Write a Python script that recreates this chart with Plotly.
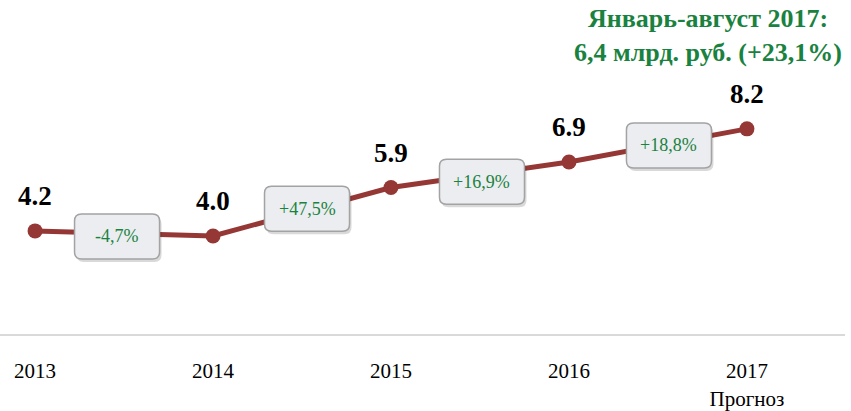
import plotly.graph_objects as go

years = ["2013", "2014", "2015", "2016", "2017"]
tick_labels = ["2013", "2014", "2015", "2016", "2017<br>Прогноз"]
values = [4.2, 4.0, 5.9, 6.9, 8.2]
value_labels = ["4.2", "4.0", "5.9", "6.9", "8.2"]
growth_labels = ["-4,7%", "+47,5%", "+16,9%", "+18,8%"]
title_lines = ["Январь-август 2017:", "6,4 млрд. руб. (+23,1%)"]

LINE = "#953735"
GREEN = "#1a8240"
SERIF = "Liberation Serif, Times New Roman, serif"

x = list(range(len(years)))

fig = go.Figure()
fig.add_trace(go.Scatter(
    x=x, y=values, mode="lines+markers",
    line=dict(color=LINE, width=5),
    marker=dict(color=LINE, size=15),
    hoverinfo="skip", showlegend=False,
))

annotations = []
for xi, v, lab in zip(x, values, value_labels):
    annotations.append(dict(
        x=xi, y=v, text=f"<b>{lab}</b>", showarrow=False, yshift=35,
        font=dict(family=SERIF, size=27, color="black"),
    ))

shapes = []
box_dx = [-7, 5, 2, 11]
box_dy = [-3, 3, -7, 0]
w, h, r = 85, 45, 7


def rrect(cx, cy):
    x0, x1 = cx - w / 2, cx + w / 2
    y0, y1 = cy - h / 2, cy + h / 2
    return (f"M {x0+r},{y0} L {x1-r},{y0} Q {x1},{y0} {x1},{y0+r} "
            f"L {x1},{y1-r} Q {x1},{y1} {x1-r},{y1} L {x0+r},{y1} "
            f"Q {x0},{y1} {x0},{y1-r} L {x0},{y0+r} Q {x0},{y0} {x0+r},{y0} Z")


for i, lab in enumerate(growth_labels):
    mx = x[i] + 0.5
    my = (values[i] + values[i + 1]) / 2
    dx, dy = box_dx[i], box_dy[i]
    shapes.append(dict(
        type="path", xref="x", yref="y", xsizemode="pixel", ysizemode="pixel",
        xanchor=mx, yanchor=my, path=rrect(dx + 2, dy - 3),
        fillcolor="rgba(0,0,0,0.15)", line=dict(width=0), layer="above",
    ))
    shapes.append(dict(
        type="path", xref="x", yref="y", xsizemode="pixel", ysizemode="pixel",
        xanchor=mx, yanchor=my, path=rrect(dx, dy),
        fillcolor="#ebedf0", line=dict(color="#a3a3a3", width=1.5), layer="above",
    ))
    annotations.append(dict(
        x=mx, y=my, xshift=dx, yshift=dy, text=lab, showarrow=False,
        font=dict(family=SERIF, size=18, color=GREEN),
    ))

annotations.append(dict(
    xref="paper", yref="paper", x=0.838, y=0.92, xanchor="center", yanchor="middle",
    text="<b>" + "<br>".join(title_lines) + "</b>", showarrow=False,
    font=dict(family=SERIF, size=26, color=GREEN),
))

fig.update_layout(
    width=851, height=411,
    margin=dict(l=0, r=6, t=10, b=77),
    paper_bgcolor="white", plot_bgcolor="white",
    xaxis=dict(
        range=[-0.197, 4.551], tickvals=x, ticktext=tick_labels,
        showgrid=False, zeroline=False, showline=True, linecolor="#d9d9d9", linewidth=2,
        ticks="outside", ticklen=17, tickcolor="rgba(0,0,0,0)",
        tickfont=dict(family=SERIF, size=21, color="black"),
        automargin=False, fixedrange=True,
    ),
    yaxis=dict(
        range=[0.157, 12.86], visible=False, showgrid=False, zeroline=False,
        automargin=False, fixedrange=True,
    ),
    annotations=annotations,
    shapes=shapes,
)

fig.write_html("out.html", config={"displayModeBar": False},
               post_script="document.body.style.margin='0';")
